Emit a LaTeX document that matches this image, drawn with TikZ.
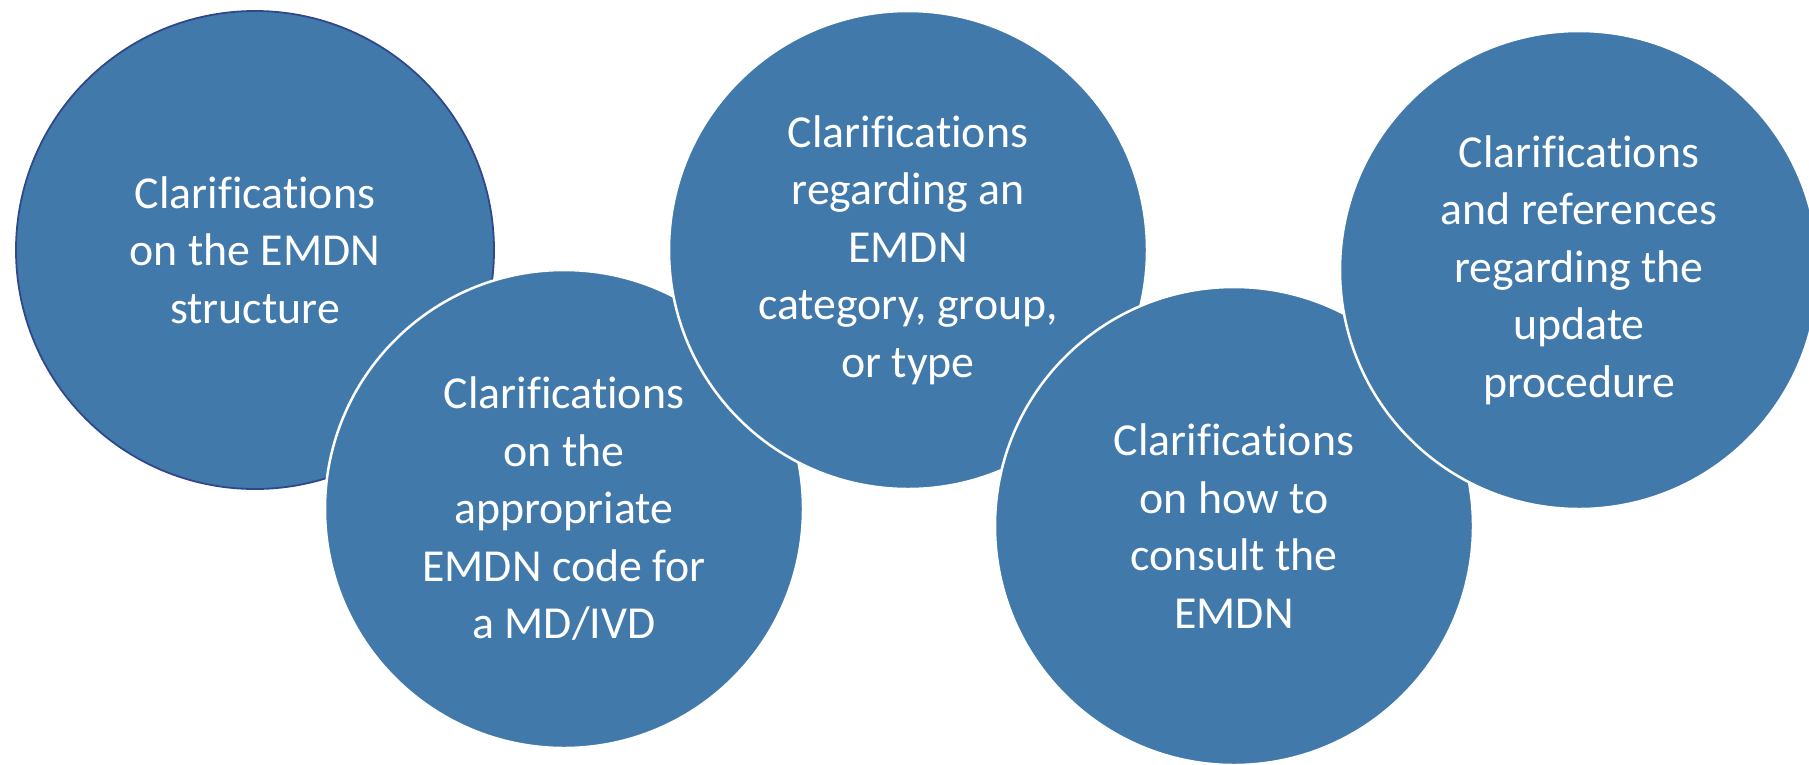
\documentclass[tikz,border=0pt]{standalone}
\usepackage{fontspec}
\setmainfont{Carlito}[Ligatures=NoCommon]
\definecolor{fillblue}{RGB}{66,121,171}
\definecolor{navyline}{RGB}{47,72,140}
\begin{document}
\begin{tikzpicture}[x=1pt,y=-1pt,
  bubble/.style={circle, fill=fillblue, minimum size=478pt, inner sep=0pt,
    text=white, align=center, font=\fontsize{45.8}{57.5}\selectfont},
  firstbubble/.style={bubble, draw=navyline, line width=1.8pt},
  overbubble/.style={bubble, draw=white, line width=2.5pt}]
\useasboundingbox (0,0) rectangle (1809,764);
\clip (0,0) rectangle (1809,764);
\node[firstbubble] (c1) at (255,250) {Clarifications\\on the EMDN\\structure};
\node[overbubble] (c2) at (564,509) {Clarifications\\on the\\appropriate\\EMDN code for\\a MD/IVD};
\node[overbubble] (c3) at (908,250) {Clarifications\\regarding an\\EMDN\\category, group,\\or type};
\node[overbubble] (c4) at (1234,526) {Clarifications\\on how to\\consult the\\EMDN};
\node[overbubble] (c5) at (1579,270) {Clarifications\\and references\\regarding the\\update\\procedure};
\end{tikzpicture}
\end{document}
